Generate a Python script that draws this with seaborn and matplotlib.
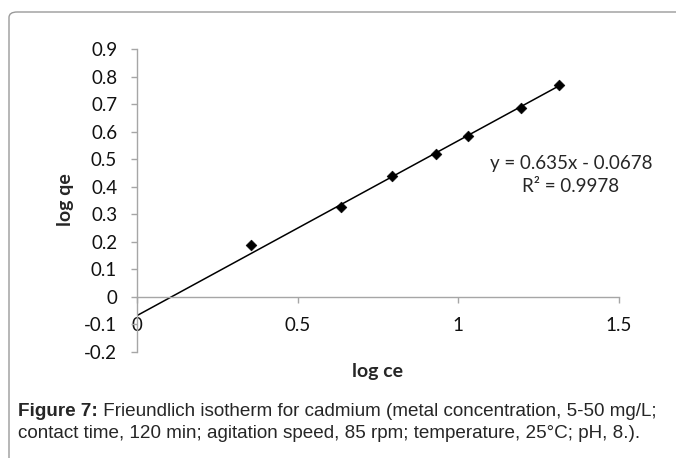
import matplotlib
matplotlib.use("Agg")
import matplotlib.pyplot as plt
from matplotlib.patches import FancyBboxPatch
import numpy as np
import pandas as pd
import seaborn as sns

log_ce = [0.356, 0.634, 0.793, 0.929, 1.031, 1.194, 1.312]
log_qe = [0.188, 0.327, 0.438, 0.517, 0.583, 0.685, 0.769]
# trendline as printed on the chart
slope = 0.635
intercept = -0.0678
r2 = 0.9978
y_ticks = [-0.2, -0.1, 0, 0.1, 0.2, 0.3, 0.4, 0.5, 0.6, 0.7, 0.8, 0.9]
x_ticks = [0, 0.5, 1, 1.5]
caption_bold = "Figure 7:"
caption_line1 = " Frieundlich isotherm for cadmium (metal concentration, 5-50 mg/L;"
caption_line2 = "contact time, 120 min; agitation speed, 85 rpm; temperature, 25°C; pH, 8.)."


def main():
    sns.set_style("white")
    plt.rcParams['font.family'] = ['Lato', 'DejaVu Sans']

    df = pd.DataFrame({'log ce': log_ce, 'log qe': log_qe})
    fit = pd.DataFrame({'x': [0, max(log_ce)]})
    fit['y'] = slope * fit['x'] + intercept

    fig = plt.figure(figsize=(6.76, 4.58), dpi=100)
    ax = fig.add_axes([137 / 676, 1 - 352 / 458, 482 / 676, 303 / 458])

    sns.lineplot(data=fit, x='x', y='y', color='black', linewidth=1.1, ax=ax)
    sns.scatterplot(data=df, x='log ce', y='log qe', marker='D', s=30,
                    color='black', edgecolor='black', ax=ax, zorder=3)

    ax.set_xlim(0, 1.5)
    ax.set_ylim(-0.2, 0.9)
    ax.set_yticks(y_ticks)
    ax.set_yticklabels([f"{t:g}" for t in y_ticks])
    ax.set_xticks(x_ticks)
    ax.set_xticklabels([f"{t:g}" for t in x_ticks])

    for s in ['top', 'right']:
        ax.spines[s].set_visible(False)
    ax.spines['bottom'].set_position(('data', 0))
    for s in ['left', 'bottom']:
        ax.spines[s].set_color('#a6a6a6')
        ax.spines[s].set_linewidth(1)
    ax.tick_params(axis='y', direction='out', length=4.3, width=1, color='#a6a6a6',
                   labelsize=13.5, pad=10, left=True, labelcolor='#111111')
    ax.tick_params(axis='x', direction='out', length=4.3, width=1, color='#a6a6a6',
                   labelsize=13.5, pad=10.5, bottom=True, labelcolor='#111111')

    ax.set_xlabel('')
    ax.set_ylabel('')
    fig.text(378 / 676, 1 - 372 / 458, 'log ce', ha='center', va='center',
             fontsize=14, fontweight='bold')
    fig.text(66 / 676, 1 - 200 / 458, 'log qe', ha='center', va='center',
             fontsize=14, fontweight='bold', rotation=90)

    fig.text(571 / 676, 1 - 163 / 458, f"y = {slope:g}x - {abs(intercept):g}",
             ha='center', va='center', fontsize=13.5)
    fig.text(571 / 676, 1 - 186 / 458, f"R² = {r2:g}",
             ha='center', va='center', fontsize=13.5)

    # caption below the chart
    cap = fig.text(18 / 676, 1 - 412 / 458, caption_bold, ha='left', va='center',
                   fontsize=13.6, fontweight='bold', family=['Liberation Sans'])
    fig.canvas.draw()
    bb = cap.get_window_extent()
    fig.text(bb.x1 / 676, 1 - 412 / 458, caption_line1, ha='left',
             va='center', fontsize=13.6, family=['Liberation Sans'])
    fig.text(18 / 676, 1 - 434 / 458, caption_line2, ha='left',
             va='center', fontsize=13.6, family=['Liberation Sans'])

    # rounded frame around the figure
    frame = FancyBboxPatch((9 / 676, -0.1), 1.2, 1.1 - 12 / 458,
                           boxstyle='round,pad=0,rounding_size=0.012',
                           transform=fig.transFigure, fill=False,
                           edgecolor='#9a9a9a', linewidth=1, clip_on=False)
    fig.patches.append(frame)

    fig.savefig('out.png', dpi=100)


main()
